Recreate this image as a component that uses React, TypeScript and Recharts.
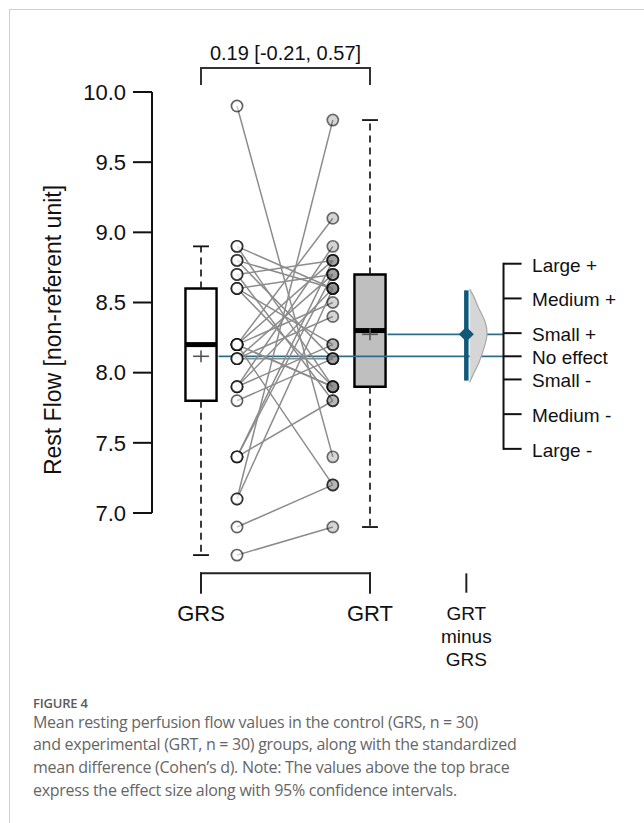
import React from 'react';
import { ComposedChart, XAxis, YAxis, Scatter, ReferenceLine, ReferenceArea } from 'recharts';

// ---------------- data ----------------
const groupLabels = ['GRS', 'GRT'];
const contrastLabel = ['GRT', 'minus', 'GRS'];
// paired observations (index i in both arrays = same subject)
const grsValues = [9.9, 8.9, 8.9, 8.8, 8.8, 8.7, 8.7, 8.6, 8.6, 8.6, 8.2, 8.2, 8.2, 8.2, 8.2, 8.2, 8.1, 8.1, 8.1, 7.9, 7.9, 7.9, 7.8, 7.4, 7.4, 7.4, 7.1, 7.1, 6.9, 6.7];
const grtValues = [7.4, 8.6, 7.9, 8.6, 8.1, 8.8, 7.8, 8.7, 8.2, 7.9, 7.2, 7.9, 8.5, 8.8, 7.9, 9.1, 8.1, 8.7, 8.4, 8.2, 8.6, 8.9, 8.1, 7.8, 8.7, 8.8, 9.8, 8.6, 7.2, 6.9];
const yTicks = [7, 7.5, 8, 8.5, 9, 9.5, 10];
const effectD = 0.19;
const effectCI = [-0.21, 0.57];
const effectText = '0.19 [-0.21, 0.57]';
const effectLevels = ['Large +', 'Medium +', 'Small +', 'No effect', 'Small -', 'Medium -', 'Large -'];
const effectLevelD = [0.8, 0.5, 0.2, 0, -0.2, -0.5, -0.8];
const densityD = [0.58, 0.52, 0.435, 0.377, 0.29, 0.2, 0.113, 0.026, -0.062, -0.15, -0.224];
const densityRel = [0.16, 0.35, 0.55, 0.71, 0.92, 1.0, 0.92, 0.77, 0.59, 0.35, 0.16];
const yAxisTitle = 'Rest Flow [non-referent unit]';
const figureLabel = 'FIGURE 4';
const captionLines = [
  'Mean resting perfusion flow values in the control (GRS, n = 30)',
  'and experimental (GRT, n = 30) groups, along with the standardized',
  'mean difference (Cohen\u2019s d). Note: The values above the top brace',
  'express the effect size along with 95% confidence intervals.',
];

// ---------------- layout / style ----------------
const W = 644;
const H = 690;
const X_DOMAIN: [number, number] = [0.71, 3.5];
const Y_DOMAIN: [number, number] = [6.0, 10.5];
const POS = { grsBox: 1, grsPts: 1.213, grtPts: 1.78, grtBox: 2, effect: 2.57, scale: 2.79 };
const BOX_HALF = 0.092;
const CAP_HALF = 0.047;
const PLUS_HX = 0.047;
const PLUS_HY = 0.042;
const SCALE_TICK = 0.107;
const TOP_BRACE = [10.171, 10.057];
const BOTTOM_BRACE = [6.57, 6.432];
const DENSITY_MAX = 0.1225;
const FONT = '"Liberation Sans", Arial, Helvetica, sans-serif';
const TEAL = '#0f5878';
const TEAL_LINE = '#2a6f8e';
const INK = '#111';

// ---------------- stats ----------------
function fivenum(a: number[]) {
  const x = [...a].sort((p, q) => p - q);
  const n = x.length;
  const n4 = Math.floor((n + 3) / 2) / 2;
  const d = [1, n4, (n + 1) / 2, n + 1 - n4, n];
  return d.map((v) => 0.5 * (x[Math.floor(v) - 1] + x[Math.ceil(v) - 1]));
}
function boxStats(a: number[]) {
  const f = fivenum(a);
  const lo = f[1], med = f[2], hi = f[3];
  const iqr = hi - lo;
  const wLo = Math.min(...a.filter((v) => v >= lo - 1.5 * iqr - 1e-9));
  const wHi = Math.max(...a.filter((v) => v <= hi + 1.5 * iqr + 1e-9));
  const mean = a.reduce((s, v) => s + v, 0) / a.length;
  return { lo, med, hi, wLo, wHi, mean };
}
const grsStats = boxStats(grsValues);
const grtStats = boxStats(grtValues);
const unitPerD = (grtStats.mean - grsStats.mean) / effectD;
const yOfD = (d: number) => grsStats.mean + d * unitPerD;

// ---------------- helpers ----------------
type TextSpec = {
  lines: string[]; fx: number; fy: number; dx: number; dy: number; size: number;
  anchor: 'start' | 'middle' | 'end'; lh?: number; rotate?: number; color?: string;
};
const makeLabel = (s: TextSpec) => (props: any) => {
  const vb = props.viewBox || {};
  const x = (vb.x ?? 0) + (vb.width ?? 0) * s.fx + s.dx;
  const y = (vb.y ?? 0) + (vb.height ?? 0) * s.fy + s.dy;
  return (
    <text
      x={x}
      y={y}
      textAnchor={s.anchor}
      dominantBaseline="central"
      fontSize={s.size}
      fontFamily={FONT}
      fill={s.color || INK}
      transform={s.rotate ? `rotate(${s.rotate} ${x} ${y})` : undefined}
    >
      {s.lines.map((l, i) => (
        <tspan key={i} x={x} dy={i === 0 ? 0 : s.lh}>{l}</tspan>
      ))}
    </text>
  );
};

const seg = (key: string, x1: number, y1: number, x2: number, y2: number, props: any = {}) => (
  <ReferenceLine
    key={key}
    segment={[{ x: x1, y: y1 }, { x: x2, y: y2 }]}
    ifOverflow="visible"
    stroke={INK}
    strokeWidth={2}
    {...props}
  />
);

const noShape = () => <g />;
const circleShape = (fill: string, stroke: string) => (p: any) => (
  <circle cx={p.cx} cy={p.cy} r={5.6} fill={fill} stroke={stroke} strokeWidth={1.7} />
);
const diamondShape = (p: any) => (
  <polygon
    points={`${p.cx},${p.cy - 7.5} ${p.cx + 7.5},${p.cy} ${p.cx},${p.cy + 7.5} ${p.cx - 7.5},${p.cy}`}
    fill={TEAL}
  />
);

function boxElements(key: string, c: number, st: ReturnType<typeof boxStats>, fill: string) {
  const dash = { strokeDasharray: '7 5', strokeWidth: 1.7, stroke: '#1a1a1a' };
  return [
    <ReferenceArea
      key={key + 'box'}
      x1={c - BOX_HALF}
      x2={c + BOX_HALF}
      y1={st.lo}
      y2={st.hi}
      fill={fill}
      fillOpacity={1}
      stroke="#000"
      strokeWidth={2.4}
      ifOverflow="visible"
    />,
    seg(key + 'wu', c, st.hi, c, st.wHi, dash),
    seg(key + 'wl', c, st.lo, c, st.wLo, dash),
    seg(key + 'cu', c - CAP_HALF, st.wHi, c + CAP_HALF, st.wHi, { strokeWidth: 1.8 }),
    seg(key + 'cl', c - CAP_HALF, st.wLo, c + CAP_HALF, st.wLo, { strokeWidth: 1.8 }),
    seg(key + 'med', c - BOX_HALF, st.med, c + BOX_HALF, st.med, { strokeWidth: 5, stroke: '#000' }),
    seg(key + 'ph', c - PLUS_HX, st.mean, c + PLUS_HX, st.mean, { stroke: '#555', strokeWidth: 1.6 }),
    seg(key + 'pv', c, st.mean - PLUS_HY, c, st.mean + PLUS_HY, { stroke: '#555', strokeWidth: 1.6 }),
  ];
}

const densityData = densityD.map((d, i) => ({ x: POS.effect + densityRel[i] * DENSITY_MAX, y: yOfD(d) }));
const ciData = [
  { x: POS.effect, y: yOfD(effectCI[0]) },
  { x: POS.effect, y: yOfD(effectCI[1]) },
];
const diamondData = [{ x: POS.effect, y: yOfD(effectD) }];
const grsPoints = grsValues.map((v) => ({ x: POS.grsPts, y: v }));
const grtPoints = grtValues.map((v) => ({ x: POS.grtPts, y: v }));

export default function App() {
  return (
    <div style={{ position: 'absolute', left: 0, top: 0, width: 644, height: 823, background: '#fff', overflow: 'hidden' }}>
      <div style={{ position: 'absolute', left: 9, top: 9, width: 640, height: 820, borderLeft: '1px solid #cfcfcf', borderTop: '1px solid #cfcfcf' }} />
      <div style={{ position: 'absolute', left: 0, top: 0 }}>
        <ComposedChart width={W} height={H} margin={{ top: 21.833, right: 20.5, bottom: 36.667, left: 0 }}>
          <XAxis type="number" dataKey="x" domain={X_DOMAIN} allowDataOverflow hide />
          <YAxis
            type="number"
            dataKey="y"
            domain={Y_DOMAIN}
            allowDataOverflow
            ticks={yTicks}
            tickFormatter={(v: number) => v.toFixed(1)}
            width={152}
            axisLine={false}
            tickSize={19}
            tickMargin={7}
            tickLine={{ stroke: INK, strokeWidth: 2 }}
            tick={{ fontSize: 22, fill: INK, fontFamily: FONT }}
          />

          {/* y-axis line with title */}
          {seg('yaxis', X_DOMAIN[0], yTicks[0], X_DOMAIN[0], yTicks[yTicks.length - 1], {
            label: {
              content: makeLabel({ lines: [yAxisTitle], fx: 0, fy: 0.5, dx: -99, dy: 27.5, size: 23, anchor: 'middle', rotate: -90 }),
            },
          })}

          {/* boxes */}
          {boxElements('grs', POS.grsBox, grsStats, '#ffffff')}
          {boxElements('grt', POS.grtBox, grtStats, '#bfbfbf')}

          {/* mean lines to effect scale */}
          {seg('mgrs', POS.grsBox + BOX_HALF + 0.012, grsStats.mean, POS.scale, grsStats.mean, { stroke: TEAL_LINE, strokeWidth: 1.7 })}
          {seg('mgrt', POS.grtBox + BOX_HALF + 0.012, grtStats.mean, POS.scale, grtStats.mean, { stroke: TEAL_LINE, strokeWidth: 1.7 })}

          {/* top brace */}
          {seg('tb', POS.grsBox, TOP_BRACE[0], POS.grtBox, TOP_BRACE[0], {
            stroke: '#333', strokeLinecap: 'square',
            label: { content: makeLabel({ lines: [effectText], fx: 0.5, fy: 0, dx: 0, dy: -15, size: 20, anchor: 'middle' }) },
          })}
          {seg('tbl', POS.grsBox, TOP_BRACE[0], POS.grsBox, TOP_BRACE[1], { stroke: '#333', strokeLinecap: 'square' })}
          {seg('tbr', POS.grtBox, TOP_BRACE[0], POS.grtBox, TOP_BRACE[1], { stroke: '#333', strokeLinecap: 'square' })}

          {/* bottom brace + group labels */}
          {seg('bb', POS.grsBox, BOTTOM_BRACE[0], POS.grtBox, BOTTOM_BRACE[0], { stroke: '#222', strokeLinecap: 'square' })}
          {seg('bbl', POS.grsBox, BOTTOM_BRACE[0], POS.grsBox, BOTTOM_BRACE[1], {
            stroke: '#222', strokeLinecap: 'square',
            label: { content: makeLabel({ lines: [groupLabels[0]], fx: 0, fy: 1, dx: 0, dy: 20, size: 22, anchor: 'middle' }) },
          })}
          {seg('bbr', POS.grtBox, BOTTOM_BRACE[0], POS.grtBox, BOTTOM_BRACE[1], {
            stroke: '#222', strokeLinecap: 'square',
            label: { content: makeLabel({ lines: [groupLabels[1]], fx: 0, fy: 1, dx: 0, dy: 20, size: 22, anchor: 'middle' }) },
          })}
          {seg('bbe', POS.effect, BOTTOM_BRACE[0], POS.effect, BOTTOM_BRACE[1], {
            stroke: '#222',
            label: { content: makeLabel({ lines: contrastLabel, fx: 0, fy: 1, dx: 0, dy: 20, size: 19, anchor: 'middle', lh: 23 }) },
          })}

          {/* effect size scale */}
          {seg('scale', POS.scale, yOfD(effectLevelD[0]), POS.scale, yOfD(effectLevelD[effectLevelD.length - 1]), { strokeLinecap: 'square' })}
          {effectLevelD.map((d, i) =>
            seg('lvl' + i, POS.scale, yOfD(d), POS.scale + SCALE_TICK, yOfD(d), {
              label: { content: makeLabel({ lines: [effectLevels[i]], fx: 1, fy: 0, dx: 10.5, dy: 1, size: 19, anchor: 'start' }) },
            })
          )}

          {/* paired lines */}
          {grsValues.map((v, i) => (
            <Scatter
              key={'pair' + i}
              data={[{ x: POS.grsPts, y: v }, { x: POS.grtPts, y: grtValues[i] }]}
              line={{ stroke: '#8c8c8c', strokeWidth: 1.5 }}
              lineType="joint"
              shape={noShape}
              isAnimationActive={false}
            />
          ))}

          {/* individual points */}
          <Scatter data={grsPoints} shape={circleShape('rgba(255,255,255,0.55)', 'rgba(0,0,0,0.62)')} isAnimationActive={false} />
          <Scatter data={grtPoints} shape={circleShape('rgba(115,115,115,0.3)', 'rgba(0,0,0,0.55)')} isAnimationActive={false} />

          {/* effect size density, CI and point estimate */}
          <Scatter
            data={densityData}
            line={{ fill: '#d6d6d6', stroke: '#a8a8a8', strokeWidth: 1.2 }}
            lineType="joint"
            lineJointType="monotoneY"
            shape={noShape}
            isAnimationActive={false}
          />
          <Scatter
            data={ciData}
            line={{ stroke: TEAL, strokeWidth: 4.5 }}
            lineType="joint"
            shape={noShape}
            isAnimationActive={false}
          />
          <Scatter data={diamondData} shape={diamondShape} isAnimationActive={false} />
        </ComposedChart>
      </div>

      <div
        style={{
          position: 'absolute', left: 33, top: 694, fontFamily: '"Open Sans", sans-serif', fontSize: 13,
          fontWeight: 600, color: '#5a5a5a', lineHeight: '18px', whiteSpace: 'nowrap', letterSpacing: '-0.2px',
        }}
      >
        {figureLabel}
      </div>
      <div
        style={{
          position: 'absolute', left: 33, top: 710.6, fontFamily: '"Open Sans", sans-serif', fontSize: 16,
          color: '#666666', lineHeight: '22.7px', whiteSpace: 'nowrap', letterSpacing: '-0.27px',
        }}
      >
        {captionLines.map((l, i) => (
          <div key={i}>{l}</div>
        ))}
      </div>
    </div>
  );
}
